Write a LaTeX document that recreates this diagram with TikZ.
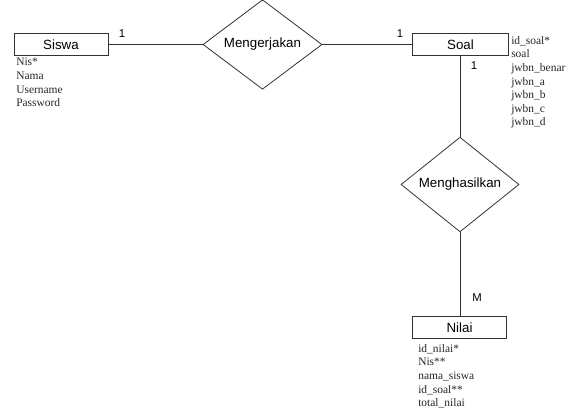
\documentclass[tikz,border=0pt]{standalone}
\usepackage{fontspec}
\setmainfont{Liberation Serif}
\newfontfamily\erfont{Liberation Sans}
\usetikzlibrary{shapes.geometric}

\begin{document}
\begin{tikzpicture}%
        [x=0.75pt, y=-0.75pt,
        entity/.style={draw=black!80, line width=0.6pt, rectangle, minimum width=70.5pt, minimum height=16.5pt, inner sep=0pt, font=\erfont\fontsize{10}{12}\selectfont},
        relation/.style={draw=black!80, line width=0.6pt, diamond, inner sep=0pt, font=\erfont\fontsize{10}{12}\selectfont},
        attr/.style={align=left, inner sep=0pt, text=black!85, font=\fontsize{8.6}{10.2}\selectfont},
        card/.style={inner sep=0pt, font=\erfont\fontsize{8.5}{10}\selectfont},
        link/.style={color=black!80, line width=0.6pt}]
    %
    \useasboundingbox (0,0) rectangle (581,419);
    %
    %% Drawing the entities
    \node[entity] (siswa) at (61,44.5) {Siswa};
    \node[entity, minimum width=72pt] (soal) at (460.5,44.5) {Soal};
    \node[entity, minimum width=70pt, minimum height=17pt] (nilai) at (459.5,327.5) {Nilai};
    %%
    %% Drawing the relations
    \node[relation, minimum width=89.25pt, minimum height=54pt] (mengerjakan) at (262.5,44.5) {Mengerjakan};
    \node[relation, minimum width=88.5pt, minimum height=51.75pt] (menghasilkan) at (460,184.5) {Menghasilkan};
    %%
    %% Drawing the attributes
    \node[attr, anchor=north west] (siswa-attr) at (16,58) {Nis*\\Nama\\Username\\Password};
    \node[attr, anchor=north west] (soal-attr) at (511,36) {id\_soal*\\soal\\jwbn\_benar\\jwbn\_a\\jwbn\_b\\jwbn\_c\\jwbn\_d};
    \node[attr, anchor=north west] (nilai-attr) at (418,344) {id\_nilai*\\Nis**\\nama\_siswa\\id\_soal**\\total\_nilai};
    %%
    %% Drawing the links
    \draw[link] (siswa.east) -- (mengerjakan.west);
    \draw[link] (mengerjakan.east) -- (soal.west);
    \draw[link] (soal.south -| menghasilkan.north) -- (menghasilkan.north);
    \draw[link] (menghasilkan.south) -- (nilai.north -| menghasilkan.south);
    %%
    %% Cardinalities
    \node[card] (c-siswa) at (122,34) {1};
    \node[card] (c-soal) at (400,34) {1};
    \node[card] (c-soal2) at (474,66) {1};
    \node[card] (c-nilai) at (477,298) {M};
    %%
\end{tikzpicture}
\end{document}
